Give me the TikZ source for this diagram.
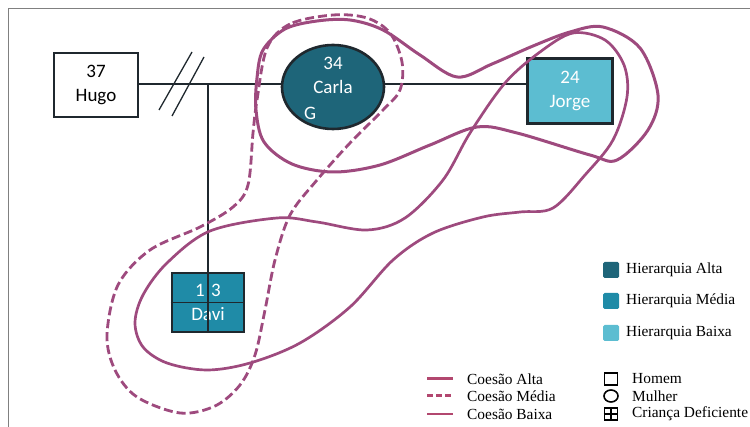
\documentclass[tikz,border=0pt]{standalone}
\usepackage{fontspec}
\setmainfont{Liberation Serif}
\newfontfamily\calibri{Carlito}
\definecolor{hialta}{HTML}{1E6579}
\definecolor{himedia}{HTML}{1F8BA7}
\definecolor{hibaixa}{HTML}{5CBDD1}
\definecolor{coesao}{HTML}{9E4A7E}
\definecolor{legcoesao}{HTML}{B2476F}
\definecolor{contorno}{HTML}{1F282E}
\tikzset{
        pessoa/.style={draw=contorno, line width=2.6pt, align=center, text=white,
                font=\calibri\fontsize{19}{24}\selectfont, inner sep=0pt},
        homem/.style={pessoa, rectangle, minimum width=#1},
        homem/.default=85pt,
        mulher/.style={pessoa, ellipse, minimum width=102pt, minimum height=84pt},
        elo/.style={line width=1.3pt, contorno},
        alta/.style={coesao, line width=3pt},
        media/.style={coesao, line width=2.8pt, dash pattern=on 9pt off 4pt},
        baixa/.style={coesao, line width=2.7pt},
        legtexto/.style={anchor=west, inner sep=0pt, font=\fontsize{15.4}{18}\selectfont},
        legcor/.style={minimum size=16pt, inner sep=0pt, rounded corners=1.5pt},
        legsimb/.style={draw=black, line width=1.6pt, inner sep=0pt}
}
\usetikzlibrary{shapes.geometric}
\begin{document}
\begin{tikzpicture}[x=1pt, y=-1pt]
        \useasboundingbox (0,0) rectangle (750,427);
        \draw[gray, line width=1pt] (8,427) -- (8,9) -- (750,9);

        \node[homem, draw=contorno, text=black, minimum height=64pt, minimum width=84pt] (hugo) at (96,85) {37\\Hugo};
        \node[mulher, fill=hialta] (carla) at (333,87) {};
        \node[pessoa, draw=none] (carlanome) at (333,75) {34\\Carla};
        \node[pessoa, draw=none] (carlag) at (310,113) {G};
        \node[homem, fill=hibaixa, minimum height=65pt] (jorge) at (570,91) {24\\Jorge};
        \node[homem=72pt, fill=himedia, minimum height=59pt] (davi) at (208,302.5) {1\,\,3\\Davi};
        \draw[line width=1.2pt, contorno] (davi.north) -- (davi.south) (davi.west) -- (davi.east);

        \draw[elo] (hugo.east |- 0,84) -- (carla.west |- 0,84);
        \draw[elo] (carla.east |- 0,84) -- (jorge.west |- 0,84);
        \draw[elo] (davi.north) -- (davi.north |- 0,84);
        \coordinate (corte) at (182,84);
        \draw[elo] ([shift={(-23,26)}]corte) -- ([shift={(10,-32)}]corte);
        \draw[elo] ([shift={(-10,32)}]corte) -- ([shift={(22,-27)}]corte);

        \draw[alta] plot[smooth cycle, tension=0.55] coordinates {
                (263,50) (285,29) (317,21) (350,20) (383,30) (420,55) (457,77) (492,64)
                (533,46) (570,32) (603,27) (640,48) (658,95) (648,130) (617,160) (590,155)
                (517,133) (477,127) (430,145) (380,165) (333,172) (292,164) (264,142) (256,110) (257,78)};
        \draw[baixa] plot[smooth cycle, tension=0.55] coordinates {
                (167,263) (210,231) (277,218) (317,222) (367,230) (405,218) (443,180)
                (470,133) (505,83) (540,52) (573,33) (605,40) (624,65) (627,97) (613,140)
                (585,175) (553,208) (520,212) (483,217) (433,233) (393,260) (350,307)
                (300,343) (250,363) (207,370) (167,363) (143,347) (135,323) (143,295)};
        \draw[media] plot[smooth cycle, tension=0.55] coordinates {
                (333,15) (290,24) (267,48) (257,100) (253,133) (248,185) (233,207) (200,227)
                (150,250) (118,285) (107,335) (115,370) (137,397) (180,413) (215,406)
                (240,385) (255,355) (265,310) (275,260) (290,215) (317,180) (350,143)
                (383,110) (400,90) (402,62) (390,33) (367,18)};

        \node[legcor, fill=hialta] (leg alta) at (611,270) {};
        \node[legtexto] (leg alta txt) at (626,270) {Hierarquia Alta};
        \node[legcor, fill=himedia] (leg media) at (611,301) {};
        \node[legtexto] (leg media txt) at (626,301) {Hierarquia Média};
        \node[legcor, fill=hibaixa] (leg baixa) at (611,333) {};
        \node[legtexto] (leg baixa txt) at (626,333) {Hierarquia Baixa};

        \node[legtexto] (coesao alta) at (467,379) {Coesão Alta};
        \node[legtexto] (coesao media) at (467,396) {Coesão Média};
        \node[legtexto] (coesao baixa) at (467,414) {Coesão Baixa};
        \draw[legcoesao, line width=3pt] ([xshift=-40pt]coesao alta.west) -- ([xshift=-14pt]coesao alta.west);
        \draw[legcoesao, line width=3pt, dash pattern=on 6pt off 3pt] ([xshift=-40pt]coesao media.west) -- ([xshift=-14pt]coesao media.west);
        \draw[legcoesao, line width=1.5pt] ([xshift=-40pt]coesao baixa.west) -- ([xshift=-14pt]coesao baixa.west);

        \node[legsimb, rectangle, minimum width=13pt, minimum height=12pt] (simb homem) at (611,379) {};
        \node[legsimb, ellipse, minimum width=14pt, minimum height=12pt] (simb mulher) at (611,396) {};
        \node[legsimb, rectangle, minimum width=13pt, minimum height=12pt] (simb crianca) at (611,414) {};
        \draw[line width=1.6pt] (simb crianca.north) -- (simb crianca.south) (simb crianca.west) -- (simb crianca.east);
        \node[legtexto] (txt homem) at (632,379) {Homem};
        \node[legtexto] (txt mulher) at (632,396) {Mulher};
        \node[legtexto] (txt crianca) at (632,414) {Criança Deficiente};
\end{tikzpicture}
\end{document}
